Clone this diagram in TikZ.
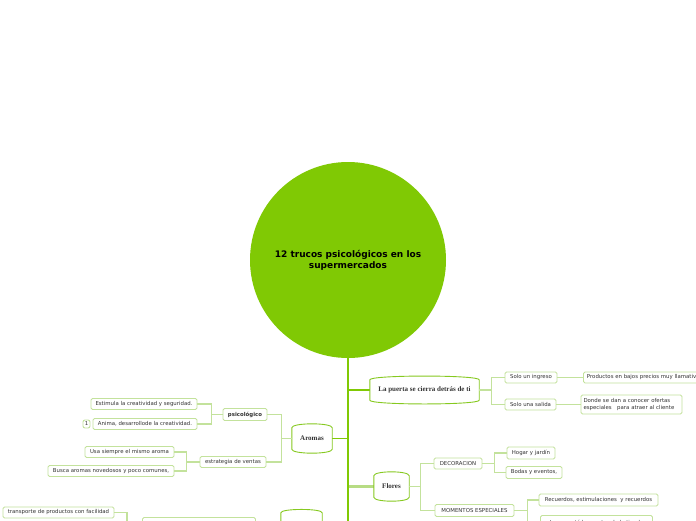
\documentclass[tikz,border=0pt]{standalone}
\usepackage{fontspec}
\setmainfont{DejaVu Sans}
\newfontfamily\serifb{Liberation Serif}
\usetikzlibrary{calc}
\definecolor{lime}{HTML}{80C904}
\definecolor{leafline}{HTML}{C3E29C}
\definecolor{paleline}{HTML}{B7DC84}
\definecolor{mainline}{HTML}{86C920}
\definecolor{txt}{HTML}{333333}
\tikzset{
 leaf/.style={draw=leafline, line width=0.9pt, rounded corners=1.5pt, fill=white,
   font=\fontsize{5.4}{6.6}\selectfont, text=txt, inner sep=1pt, align=center},
 topic/.style={inner sep=0pt, font=\serifb\bfseries\fontsize{7}{8}\selectfont, text=txt},
 link/.style={leafline, line width=1.1pt},
 trunk/.style={lime, line width=1.6pt},
 flink/.style={paleline, line width=2.4pt},
}
\newcommand\barrelbox[2]{\draw[mainline, line width=0.9pt] (#1.south west) -- (#1.north west) .. controls ([yshift=#2]#1.north west) and ([yshift=#2]#1.north east) .. (#1.north east) -- (#1.south east) .. controls ([yshift=-#2]#1.south east) and ([yshift=-#2]#1.south west) .. (#1.south west) -- cycle;}
\begin{document}
\begin{tikzpicture}[x=1pt,y=-1pt]
\useasboundingbox (0,0) rectangle (696,520);
\clip (0,0) rectangle (696,520);
\fill[white] (0,0) rectangle (696,520);

% root
\node[circle, fill=lime, minimum size=196pt, inner sep=0pt, text=black,
  font=\bfseries\fontsize{9}{11}\selectfont, align=center] (root) at (348,260)
  {12 trucos psicológicos en los\\supermercados};

% topics
\node[topic, minimum width=109pt, minimum height=20pt] (puerta) at (424.5,390) {La puerta se cierra detrás de ti};
\node[topic, minimum width=40pt, minimum height=21pt] (aromas) at (312,438.5) {Aromas};
\node[topic, minimum width=35pt, minimum height=21pt] (flores) at (391.5,486.5) {Flores};
\node[topic, minimum width=41pt, minimum height=21pt] (otro) at (301.5,523.5) {};

% trunk
\coordinate (trunkend) at (348,560);
\draw[flink] (root.south |- flores.west) -- (flores.west);
\draw[trunk] (root.south) -- (trunkend);
\draw[trunk] (root.south) |- (puerta.west);
\draw[trunk] (root.south) |- (aromas.east);
\draw[trunk] (root.south) |- (otro.east);

\barrelbox{puerta}{5pt}
\barrelbox{aromas}{5.3pt}
\barrelbox{flores}{5.3pt}
\barrelbox{otro}{4.5pt}

% puerta leaves
\node[leaf, minimum width=52pt, minimum height=11pt] (ingreso) at (531,377.5) {Solo un ingreso};
\node[leaf, minimum width=51pt, minimum height=11pt] (salida) at (530.5,404.5) {Solo una salida};
\node[leaf, minimum height=11pt, anchor=west, inner xsep=3.5pt] (productos) at (583,377.5) {Productos en bajos precios muy llamativos};
\node[leaf, minimum width=101pt, minimum height=19pt, align=left, text width=96pt] (donde) at (631.5,404.5) {Donde se dan a conocer ofertas\\especiales\ \ \ para atraer al cliente};
\draw[link] (puerta.east) -- ++(12,0) |- (ingreso.west);
\draw[link] (puerta.east) -- ++(12,0) |- (salida.west);
\draw[link] (ingreso.east) -- (productos.west);
\draw[link] (salida.east) -- (donde.west);

% aromas leaves
\node[leaf, minimum width=44pt, minimum height=12pt, font=\bfseries\fontsize{5.4}{6.6}\selectfont] (psico) at (245,414.5) {psicológico};
\node[leaf, minimum width=66pt, minimum height=11pt] (estrategia) at (233,462) {estrategia de ventas};
\node[leaf, minimum width=106pt, minimum height=11pt] (estimula) at (144,404) {Estimula la creatividad y seguridad.};
\node[leaf, minimum width=104pt, minimum height=11pt] (anima) at (145,424) {Anima, desarrollode la creatividad.};
\node[leaf, minimum width=7pt, minimum height=8pt, inner sep=0pt, rounded corners=2pt] (uno) at (86.5,424) {1};
\node[leaf, minimum width=89pt, minimum height=11pt] (usa) at (129.5,452) {Usa siempre el mismo aroma};
\node[leaf, minimum width=126pt, minimum height=11pt] (busca) at (111,471) {Busca aromas novedosos y poco comunes,};
\draw[link] (aromas.west) -- ++(-10,0) |- (psico.east);
\draw[link] (aromas.west) -- ++(-10,0) |- (estrategia.east);
\draw[link] (psico.west) -- ++(-11,0) |- (estimula.east);
\draw[link] (psico.west) -- ++(-11,0) |- (anima.east);
\draw[link] (estrategia.west) -- ++(-13,0) |- (usa.east);
\draw[link] (estrategia.west) -- ++(-13,0) |- (busca.east);

% flores leaves
\node[leaf, minimum width=48pt, minimum height=11pt] (decoracion) at (458,463.5) {DECORACION};
\node[leaf, minimum width=79pt, minimum height=12pt] (momentos) at (474.5,510.5) {MOMENTOS ESPECIALES};
\node[leaf, minimum width=48pt, minimum height=12pt] (hogar) at (531,453) {Hogar y jardín};
\node[leaf, minimum width=56pt, minimum height=12pt] (bodas) at (534,472.5) {Bodas y eventos,};
\node[leaf, minimum width=119pt, minimum height=12pt] (recuerdos) at (598.5,500) {Recuerdos, estimulaciones\ \ y recuerdos};
\node[leaf, minimum width=112pt, minimum height=17pt, anchor=north west, text depth=4pt] (agrega) at (540,515) {Incrementá las ventas de la tienda};
\draw[link] (flores.east) -- ++(11,0) |- (decoracion.west);
\draw[link] (flores.east) -- ++(11,0) |- (momentos.west);
\draw[link] (decoracion.east) -- ++(12,0) |- (hogar.west);
\draw[link] (decoracion.east) -- ++(12,0) |- (bodas.west);
\draw[link] (momentos.east) -- ++(13,0) |- (recuerdos.west);
\draw[link] (momentos.east) -- ++(13,0) |- (agrega.west);

% bottom branch
\node[leaf, minimum width=113pt, minimum height=14pt, anchor=north west] (caja) at (142,517) {};
\node[leaf, minimum width=111pt, minimum height=11pt] (transporte) at (58.5,512.5) {transporte de productos con facilidad};
\draw[link] (otro.west) -- ++(-11,0) |- (caja.east);
\draw[link] (caja.west) -- ++(-15,0) |- (transporte.east);
\end{tikzpicture}
\end{document}
